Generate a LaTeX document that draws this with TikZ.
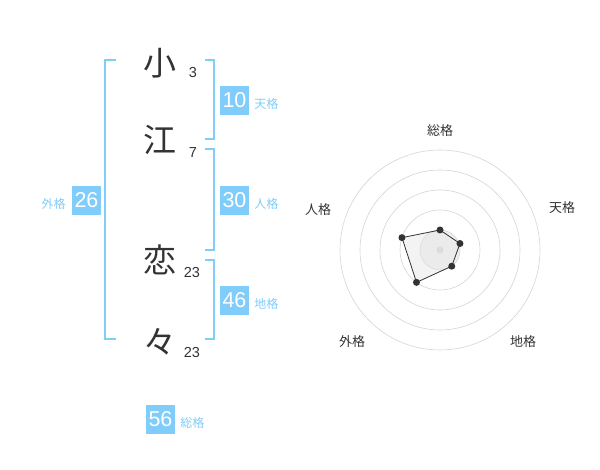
\documentclass[tikz,border=0pt]{standalone}
\usepackage{fontspec}
\setmainfont{Liberation Sans}
\newfontfamily\jpfont{Noto Sans CJK JP}
\usetikzlibrary{positioning,calc}
\definecolor{SkyBlue}{RGB}{128,204,250}
\definecolor{InkGray}{RGB}{51,51,51}
\definecolor{RingGray}{RGB}{212,212,212}
\definecolor{PaleGray}{RGB}{240,240,240}

\begin{document}
\begin{tikzpicture}[x=1pt, y=-1pt,
    kanji/.style={inner sep=0pt, text=InkGray, font=\fontsize{33}{33}\selectfont\jpfont},
    strokes/.style={inner sep=0pt, text=InkGray, font=\fontsize{14.5}{14.5}\selectfont},
    kaku/.style={rectangle, fill=SkyBlue, text=white, minimum size=29pt,
                 inner sep=0pt, font=\fontsize{21.5}{21.5}\selectfont},
    kakuname/.style={inner sep=0pt, text=SkyBlue, font=\fontsize{12}{12}\selectfont\jpfont},
    bracket/.style={draw=SkyBlue, line width=2pt},
    ring/.style={draw=RingGray, line width=0.6pt},
    axisname/.style={inner sep=0pt, text=InkGray, font=\fontsize{13}{13}\selectfont\jpfont},
    vertex/.style={circle, fill=InkGray, inner sep=0pt, minimum size=7pt}
]
    \useasboundingbox (0,0) rectangle (600,470);

    % name characters and stroke counts
    \node[kanji] (c1) at (160,63) {小};
    \node[kanji] (c2) at (160,140) {江};
    \node[kanji] (c3) at (160,260) {恋};
    \node[kanji] (c4) at (160,342) {々};
    \node[strokes] (s1) at (193,73) {3};
    \node[strokes] (s2) at (193,153) {7};
    \node[strokes] (s3) at (192,273) {23};
    \node[strokes] (s4) at (192,353) {23};

    % brackets
    \draw[bracket] (116,60) -- (105,60) -- (105,339) -- (116,339);
    \draw[bracket] (205,60) -- (214,60) -- (214,139) -- (205,139);
    \draw[bracket] (205,149) -- (214,149) -- (214,250) -- (205,250);
    \draw[bracket] (205,260) -- (214,260) -- (214,339) -- (205,339);

    % totals
    \node[kaku] (ten) at (234.5,100.5) {10};
    \node[kakuname, right=5pt of ten, yshift=-3pt] (tenname) {天格};
    \node[kaku] (jin) at (234.5,200.5) {30};
    \node[kakuname, right=5pt of jin, yshift=-3pt] (jinname) {人格};
    \node[kaku] (chi) at (234.5,300.5) {46};
    \node[kakuname, right=5pt of chi, yshift=-3pt] (chiname) {地格};
    \node[kaku] (gai) at (86.5,200.5) {26};
    \node[kakuname, left=6pt of gai, yshift=-3pt] (gainame) {外格};
    \node[kaku] (sou) at (160.5,419.5) {56};
    \node[kakuname, right=5pt of sou, yshift=-3pt] (souname) {総格};

    % radar chart
    \coordinate (o) at (440,250);
    \draw[ring, fill=PaleGray] (o) circle[radius=20];
    \draw[ring] (o) circle[radius=40];
    \draw[ring] (o) circle[radius=60];
    \draw[ring] (o) circle[radius=80];
    \draw[ring] (o) circle[radius=100];
    \fill[RingGray] (o) circle[radius=3.5];

    \node[axisname] (asou) at (440,131) {総格};
    \node[axisname] (aten) at (562,208) {天格};
    \node[axisname] (achi) at (523,342) {地格};
    \node[axisname] (agai) at (352,342) {外格};
    \node[axisname] (ajin) at (318,210) {人格};

    \coordinate (vsou) at ($(o)+(-90:20)$);
    \coordinate (vten) at ($(o)+(-18:21)$);
    \coordinate (vchi) at ($(o)+(54:20)$);
    \coordinate (vgai) at ($(o)+(126:40)$);
    \coordinate (vjin) at ($(o)+(198:40)$);
    \draw[draw=InkGray, fill=gray!20, fill opacity=0.45, line width=0.8pt]
        (vsou) -- (vten) -- (vchi) -- (vgai) -- (vjin) -- cycle;
    \node[vertex] at (vsou) {};
    \node[vertex] at (vten) {};
    \node[vertex] at (vchi) {};
    \node[vertex] at (vgai) {};
    \node[vertex] at (vjin) {};
\end{tikzpicture}
\end{document}
